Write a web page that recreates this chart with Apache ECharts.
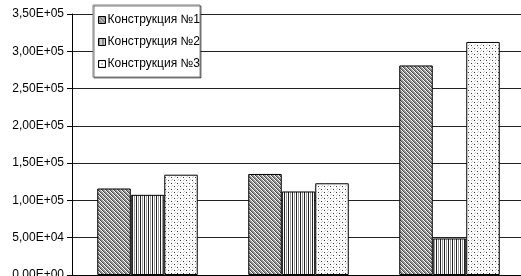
<!DOCTYPE html>
<html><head><meta charset="utf-8">
<script src="https://cdn.jsdelivr.net/npm/echarts@6/dist/echarts.min.js"></script>
<style>html,body{margin:0;padding:0;background:#fff}#c{width:521px;height:276px}</style>
</head><body><div id="c"></div>
<script>
var categories = ['1', '2', '3'];
var seriesNames = ['Конструкция №1', 'Конструкция №2', 'Конструкция №3'];
var s1 = [116000, 135500, 281000];
var s2 = [107500, 112000, 49000];
var s3 = [134500, 123000, 312500];
var yMin = 0, yMax = 350000, yStep = 50000;

function pat(kind) {
  var c = document.createElement('canvas');
  var ctx = c.getContext('2d');
  if (kind === 'diag') {
    c.width = 4; c.height = 4;
    ctx.fillStyle = '#fff'; ctx.fillRect(0, 0, 4, 4);
    ctx.fillStyle = '#444';
    for (var i = 0; i < 4; i++) { ctx.fillRect(i, i, 1, 1); }
    ctx.fillStyle = '#999';
    for (var i = 0; i < 4; i++) { ctx.fillRect((i + 1) % 4, i, 1, 1); ctx.fillRect((i + 2) % 4, i, 1, 1); }
  } else if (kind === 'vert') {
    c.width = 4; c.height = 4;
    ctx.fillStyle = '#fff'; ctx.fillRect(0, 0, 4, 4);
    ctx.fillStyle = '#222'; ctx.fillRect(0, 0, 1, 4);
    ctx.fillStyle = '#999'; ctx.fillRect(2, 0, 1, 4);
  } else {
    c.width = 6; c.height = 6;
    ctx.fillStyle = '#fff'; ctx.fillRect(0, 0, 6, 6);
    ctx.fillStyle = '#333'; ctx.fillRect(0, 0, 1, 1); ctx.fillRect(3, 3, 1, 1);
    ctx.fillStyle = '#ccc'; ctx.fillRect(3, 0, 1, 1); ctx.fillRect(0, 3, 1, 1);
    ctx.fillRect(1, 2, 1, 1); ctx.fillRect(4, 5, 1, 1);
  }
  return { image: c, repeat: 'repeat' };
}

function sci(v) {
  if (v === 0) return '0,00E+00';
  var e = Math.floor(Math.log10(v));
  var m = v / Math.pow(10, e);
  return m.toFixed(2).replace('.', ',') + 'E+' + (e < 10 ? '0' + e : e);
}

var chart = echarts.init(document.getElementById('c'));
var fills = [pat('diag'), pat('vert'), pat('dots')];
var data = [s1, s2, s3];
chart.setOption({
  animation: false,
  textStyle: { fontFamily: 'Liberation Sans, Arial, sans-serif' },
  grid: { left: 72, right: -4, top: 14, bottom: 1, containLabel: false, outerBoundsMode: 'none' },
  legend: {
    orient: 'vertical', left: 93, top: 5,
    data: seriesNames,
    icon: 'rect', itemWidth: 7, itemHeight: 7, itemGap: 10,
    padding: [9, 0, 7, 5],
    borderColor: '#808080', borderWidth: 1, backgroundColor: '#fff',
    shadowColor: 'rgba(0,0,0,0.5)', shadowOffsetX: 1, shadowOffsetY: 1, shadowBlur: 0,
    textStyle: { fontSize: 12, color: '#000', padding: [0, 0, 0, -3] },
    itemStyle: { borderColor: '#000', borderWidth: 1 }
  },
  xAxis: {
    type: 'category', data: categories,
    axisLine: { show: true, lineStyle: { color: '#000' } },
    axisTick: { show: false }, axisLabel: { show: false }
  },
  yAxis: {
    type: 'value', min: yMin, max: yMax, interval: yStep,
    axisLine: { show: true, lineStyle: { color: '#000' } },
    axisTick: { show: true, length: 5, lineStyle: { color: '#000' } },
    axisLabel: { formatter: sci, fontSize: 12, color: '#000', margin: 8 },
    splitLine: { show: true, lineStyle: { color: '#222', width: 1 } }
  },
  series: seriesNames.map(function (n, i) {
    return {
      name: n, type: 'bar', data: data[i],
      barWidth: 33.5, barGap: '0%',
      itemStyle: { color: fills[i], borderColor: '#000', borderWidth: 1 }
    };
  })
});
</script></body></html>
